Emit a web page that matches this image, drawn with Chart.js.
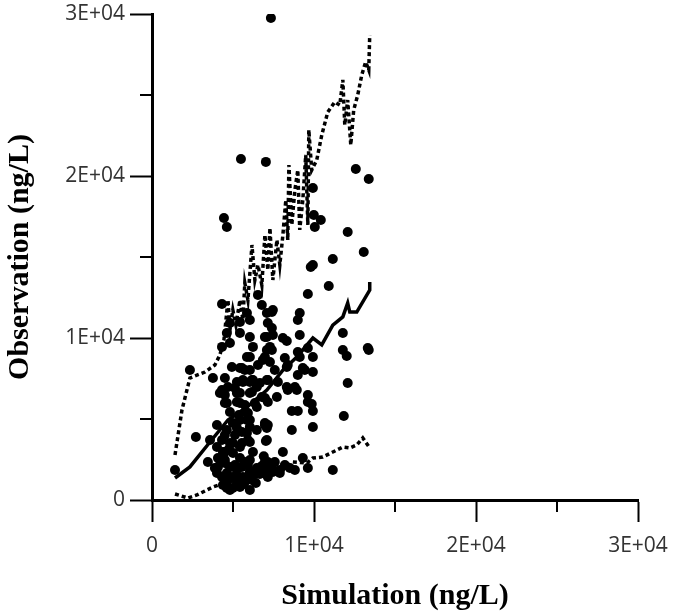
<!DOCTYPE html>
<html>
<head>
<meta charset="utf-8">
<script src="https://cdn.jsdelivr.net/npm/chart.js@4"></script>
<style>
html,body{margin:0;padding:0;background:#fff;}
#wrap{width:675px;height:615px;}
</style>
</head>
<body>
<div id="wrap"><canvas id="c" width="675" height="615"></canvas></div>
<script>
// observed vs simulated concentrations (ng/L)
const simX = [7340,5490,7030,4440,4620,12580,13380,9930,9990,10420,10050,12080,13070,11160,9930,9800,10910,9620,4320,7460,
  7400,9120,9000,7150,7400,5430,9120,8080,8320,7090,7460,7280,7400,6040,11780,11780,12020,13320,13380,9930,
  9120,2340,4930,5550,5730,6540,6970,8320,9310,9930,9000,3760,4500,5240,5610,6040,6230,6470,4690,5120,
  12080,8320,8820,8380,4190,4500,5430,6170,6970,7710,9620,9620,9860,4500,5240,5730,6350,4810,5360,5920,
  6040,8630,9000,9930,11840,4010,4990,5240,5550,5860,6040,6970,7090,8630,9930,2710,4500,4620,3580,4990,
  5920,6040,7030,4380,4010,5430,6230,8080,3450,4190,4070,4500,4810,5240,5430,5550,5920,6470,6350,6970,
  7090,7400,7460,7890,4010,4320,4620,4690,4990,5240,5610,5860,4380,4620,4810,6040,1420,11160,3880,4810,
  4620,4320,4810,5430,6040,6040,6230,5860,6040,7090,6970,7090,6840,5430,5610,6170,4320,6660,7090,5860,
  4620,5240,5430,6040,6780,6470,5860,5430,6970,5120,5860,6470,4320,4810,5550,4500,4500,6040,6040,5300,
  5430,4990,9000,9620,8200,8380,9430,7280,7580,7150,7770,8940,7150,7150,7090,7150,7400,7150,9310,9620,
  6540,6780,5120,5730,6660,6170,6780,7580,8200,8510,8820,4070,5000,5680,6410,7890,4750,6900];
const obsY = [29750,21050,20870,17410,16850,20430,19820,19260,17590,17280,16850,16540,15310,14880,14510,14380,13210,12720,12100,11730,
  11610,11540,11110,10930,10620,10990,10190,10000,9820,10060,10190,9450,9260,8830,10310,9260,8890,9380,9260,8830,
  8830,8030,8210,8150,8030,8330,8830,8210,8150,7900,7720,7530,7530,7280,7280,7280,7410,6980,6980,6910,
  7220,6980,6980,6790,6610,6480,6610,6670,6300,6360,6480,6050,5930,5990,6050,5860,5990,5430,5250,5370,
  4940,5490,5490,5490,5190,4630,4750,4450,4200,4940,4510,4630,4450,4320,4510,3890,4010,4320,3700,3520,
  3700,3580,3640,2960,3270,3270,2960,2960,2350,2470,2040,2280,2040,1850,2590,2040,2160,1980,1670,2350,
  1850,2040,1730,1850,1670,1420,1670,1240,1420,1110,1420,1240,930,740,620,620,1850,1850,1980,10930,
  10310,9450,9690,10310,11110,10060,9450,8830,8030,11540,10060,9260,8640,8150,7410,7410,6790,7220,7410,11540,
  5990,6610,5990,6610,6360,5740,5370,4940,4750,4010,4140,4320,3700,3520,3520,2960,2470,1730,2470,1360,
  800,740,9140,9380,8770,8330,8030,8520,8030,7410,7280,6790,6050,4630,3700,2350,1850,1420,2590,1980,
  12660,12040,2160,2350,1600,1230,2100,2350,2160,1980,1850,2590,2900,980,1050,1670,3150,2700];

// prediction lines: median, 95th and 5th percentile
const medX = [1420,2340,3580,4690,5860,7090,8080,8940,9930,10480,11160,11780,12080,12210,12640,13440,13440];
const medY = [1360,2040,3580,4940,5740,6790,8020,8830,10000,9570,10800,11300,12160,11600,11600,12960,13460];
const hiX = [1420,1850,2340,3270,3880,4190,4440,4690,4810,4990,5180,5430,5610,5730,5920,6170,6350,6540,6780,6970,
  7150,7280,7460,7710,7890,8080,8260,8380,8450,8630,8820,9000,9120,9310,9490,9620,9680,9860,10170,10480,
  10850,11280,11590,11780,11900,12080,12270,12450,12700,12950,13190,13380,13440];
const hiY = [2780,5560,7530,7900,8330,8950,9880,12350,10490,11730,10800,12350,11110,13400,12350,15740,13580,14510,13270,16360,
  14200,16790,13580,16050,14510,16360,18520,16050,20680,16980,19140,20370,16670,18520,21300,16980,22840,20370,20990,22530,
  23950,24570,24380,25930,23150,24690,21910,24070,25000,26240,27040,26540,28700];
const loX = [1420,2220,2770,3760,4620,5430,6040,7090,8080,8690,9560,9930,10540,11160,11780,12210,12640,13010,13440];
const loY = [370,120,310,800,1110,1230,1360,1540,1850,2350,2280,2590,2650,2960,3270,3210,3400,3830,3210];

const xTicks = [0,5000,10000,15000,20000,25000,30000];
const minorVals = [5000,15000,25000];

function pts(xs, ys){ return xs.map((x,i)=>({x:x, y:ys[i]})); }
function fmt(v){ if(v===0) return '0'; if(v%10000) return ''; return (v/10000)+'E+04'; }

const minorTicks = {
  id:'minorTicks',
  afterDraw(chart){
    const ctx=chart.ctx, a=chart.chartArea, sx=chart.scales.x, sy=chart.scales.y;
    ctx.save(); ctx.strokeStyle='#000'; ctx.lineWidth=2;
    minorVals.forEach(v=>{
      const px=Math.round(sx.getPixelForValue(v));
      ctx.beginPath(); ctx.moveTo(px,a.bottom); ctx.lineTo(px,a.bottom+12); ctx.stroke();
      const py=Math.round(sy.getPixelForValue(v));
      ctx.beginPath(); ctx.moveTo(a.left-12,py); ctx.lineTo(a.left,py); ctx.stroke();
    });
    ctx.restore();
  }
};

const tickFont = {family:'"Open Sans", "Noto Sans", sans-serif', size:21};
const titleFont = {family:'"Liberation Serif", "Times New Roman", serif', size:30, weight:'bold'};

function axis(title, pad){
  return {
    type:'linear', min:0, max:30000,
    afterBuildTicks(s){ s.ticks = xTicks.map(v=>({value:v})); },
    border:{color:'#000', width:3},
    grid:{drawOnChartArea:false, tickLength:22, tickWidth:2, tickColor:c=>(c.tick && c.tick.value%10000===0)?'#000':'rgba(0,0,0,0)'},
    ticks:{color:'#333', font:tickFont, padding:pad, autoSkip:false, maxRotation:0, callback:v=>fmt(v)},
    title:{display:true, text:title, color:'#000', font:titleFont, padding:{top:2,bottom:1}}
  };
}

const xAxis = axis('Simulation (ng/L)', 11);
xAxis.afterFit = s=>{ s.height = 115; s.paddingLeft = 0; s.paddingRight = 0; };
const yAxis = axis('Observation (ng/L)', 5);
yAxis.afterFit = s=>{ s.width = 152; s.paddingTop = 0; s.paddingBottom = 0; };

new Chart(document.getElementById('c'), {
  type:'scatter',
  data:{datasets:[
    {label:'Observed', data:pts(simX,obsY), backgroundColor:'#000', borderColor:'#000', pointRadius:5, borderWidth:0, order:2},
    {label:'Median', type:'line', data:pts(medX,medY), borderColor:'#000', borderWidth:3.5, pointRadius:0, tension:0, fill:false, order:1},
    {label:'95th', type:'line', data:pts(hiX,hiY), borderColor:'#000', borderWidth:3.5, borderDash:[4,3], pointRadius:0, tension:0, fill:false, order:1},
    {label:'5th', type:'line', data:pts(loX,loY), borderColor:'#000', borderWidth:3.5, borderDash:[4,3], pointRadius:0, tension:0, fill:false, order:1}
  ]},
  options:{
    responsive:false, animation:false,
    layout:{padding:{top:14, right:37, left:0, bottom:0}},
    plugins:{legend:{display:false}, tooltip:{enabled:false}},
    scales:{x:xAxis, y:yAxis}
  },
  plugins:[minorTicks]
});
</script>
</body>
</html>
